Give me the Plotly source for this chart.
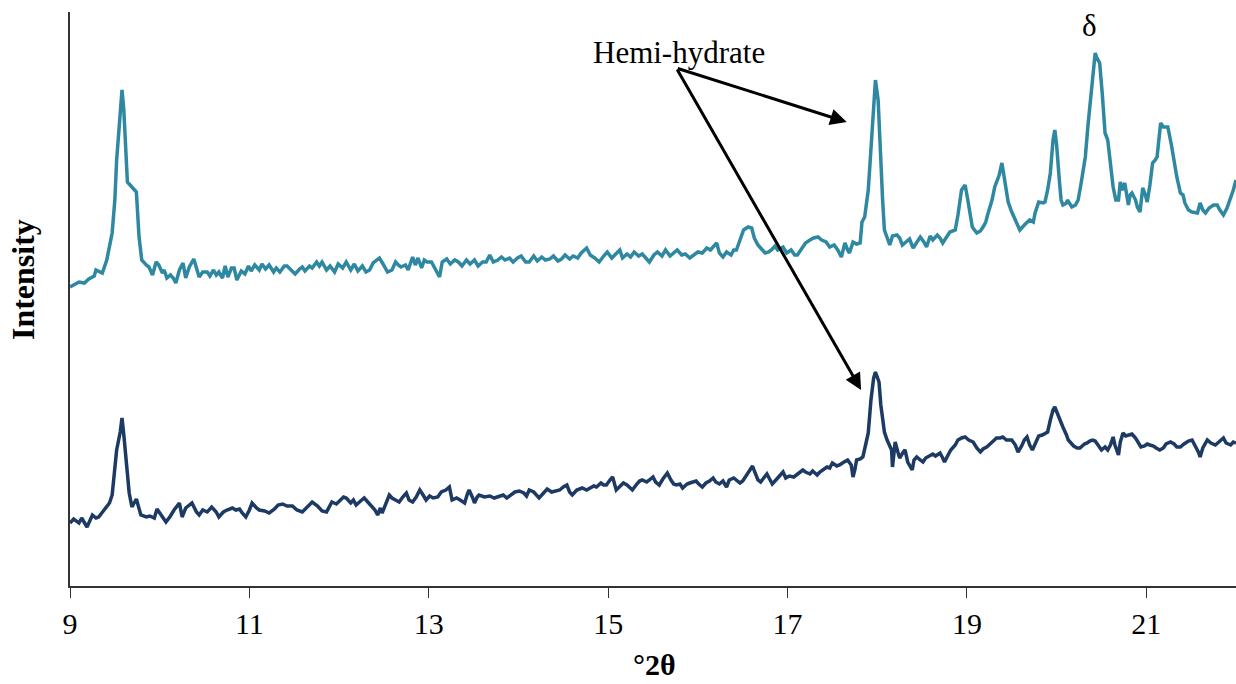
import plotly.graph_objects as go

# 2-theta positions and intensities (arbitrary units) - upper trace
upper_2theta = [9.00,9.06,9.10,9.16,9.21,9.27,9.29,9.36,9.41,9.47,9.50,9.52,9.56,9.58,9.60,9.62,9.64,9.68,9.74,9.77,9.80,9.85,9.88,9.92,9.96,9.99,10.03,10.05,10.08,10.12,10.15,10.18,10.22,10.26,10.29,10.33,10.38,10.44,10.48,10.53,10.56,10.60,10.63,10.66,10.70,10.73,10.76,10.80,10.83,10.86,10.91,10.95,10.99,11.02,11.06,11.11,11.14,11.18,11.22,11.27,11.30,11.34,11.39,11.42,11.47,11.51,11.56,11.59,11.62,11.67,11.70,11.75,11.78,11.81,11.86,11.90,11.95,11.99,12.04,12.08,12.13,12.17,12.21,12.26,12.30,12.34,12.38,12.45,12.49,12.54,12.59,12.63,12.66,12.69,12.74,12.77,12.82,12.85,12.88,12.92,12.95,12.98,13.03,13.07,13.12,13.15,13.20,13.24,13.29,13.33,13.37,13.42,13.46,13.51,13.55,13.60,13.64,13.68,13.72,13.77,13.81,13.85,13.90,13.94,13.99,14.03,14.08,14.12,14.17,14.21,14.26,14.30,14.35,14.39,14.44,14.48,14.52,14.57,14.61,14.66,14.70,14.76,14.80,14.85,14.90,14.95,14.99,15.04,15.08,15.13,15.16,15.21,15.25,15.29,15.34,15.38,15.43,15.46,15.51,15.55,15.60,15.64,15.69,15.73,15.77,15.82,15.86,15.91,15.95,16.00,16.05,16.10,16.14,16.19,16.21,16.24,16.28,16.32,16.37,16.40,16.43,16.47,16.51,16.56,16.60,16.63,16.67,16.71,16.75,16.79,16.82,16.86,16.89,16.95,16.99,17.04,17.08,17.11,17.16,17.20,17.25,17.29,17.34,17.38,17.43,17.47,17.52,17.56,17.60,17.64,17.67,17.69,17.73,17.77,17.81,17.83,17.86,17.90,17.92,17.95,17.98,18.01,18.03,18.06,18.08,18.12,18.14,18.17,18.22,18.25,18.28,18.32,18.36,18.40,18.44,18.48,18.52,18.55,18.59,18.62,18.67,18.70,18.73,18.78,18.81,18.87,18.90,18.94,18.98,19.01,19.06,19.11,19.15,19.18,19.21,19.23,19.28,19.31,19.36,19.39,19.42,19.46,19.50,19.55,19.59,19.64,19.68,19.70,19.74,19.76,19.80,19.85,19.87,19.90,19.93,19.96,19.98,20.00,20.03,20.05,20.07,20.11,20.12,20.15,20.17,20.21,20.24,20.27,20.32,20.35,20.37,20.41,20.43,20.45,20.48,20.51,20.54,20.57,20.61,20.63,20.66,20.69,20.71,20.73,20.76,20.80,20.82,20.84,20.88,20.90,20.93,20.96,20.99,21.01,21.04,21.07,21.10,21.12,21.14,21.16,21.19,21.22,21.24,21.28,21.31,21.34,21.38,21.41,21.43,21.47,21.51,21.57,21.60,21.63,21.66,21.70,21.75,21.79,21.82,21.86,21.90,21.94,21.97,22.00]
upper_intensity = [299,302,304,303,307,310,316,313,326,353,386,426,471,496,476,443,404,400,394,349,326,321,319,311,324,321,313,316,308,311,308,303,316,323,308,319,327,309,314,314,310,316,311,314,308,320,309,318,318,306,315,312,320,315,321,316,322,317,321,314,318,314,320,320,316,312,317,319,315,320,318,324,320,324,316,320,314,322,318,324,316,322,315,320,314,316,323,328,322,314,316,324,321,319,321,316,329,321,328,318,326,324,324,318,309,324,327,322,326,324,320,326,322,326,320,324,324,331,324,326,329,326,328,324,328,330,324,324,330,325,329,326,327,330,325,327,331,327,330,328,333,338,331,328,324,330,334,328,332,336,328,332,329,334,330,332,327,324,331,334,330,336,330,333,336,331,332,328,331,334,333,338,336,341,343,333,329,334,331,336,336,346,356,359,358,348,341,337,333,334,336,340,336,339,333,336,331,331,338,343,346,348,349,346,344,339,341,336,329,343,336,333,344,342,343,364,369,396,423,466,506,486,439,386,356,344,341,350,351,348,341,344,347,338,344,349,344,339,350,346,351,348,343,350,354,356,371,396,401,386,359,353,355,359,364,371,386,399,411,423,408,384,374,364,356,361,364,366,364,373,384,383,384,396,413,446,456,441,406,386,381,383,386,381,379,381,386,401,429,461,479,516,533,528,523,491,453,446,416,399,386,386,404,396,403,381,391,393,386,379,374,398,391,384,401,423,426,429,446,463,459,459,459,441,423,409,393,391,383,376,374,373,383,376,373,378,381,381,376,371,378,388,396,406]

# lower trace
lower_2theta = [9.00,9.04,9.10,9.13,9.19,9.25,9.29,9.32,9.38,9.44,9.47,9.50,9.52,9.56,9.58,9.60,9.62,9.66,9.69,9.74,9.79,9.85,9.89,9.94,9.97,10.02,10.07,10.12,10.16,10.22,10.25,10.29,10.36,10.41,10.44,10.48,10.53,10.58,10.63,10.66,10.71,10.75,10.81,10.85,10.89,10.92,10.96,11.00,11.03,11.08,11.11,11.17,11.22,11.28,11.32,11.37,11.42,11.48,11.53,11.59,11.65,11.70,11.76,11.81,11.86,11.89,11.92,11.97,12.01,12.05,12.08,12.13,12.16,12.19,12.24,12.28,12.33,12.37,12.40,12.43,12.46,12.48,12.53,12.56,12.59,12.63,12.67,12.71,12.75,12.78,12.82,12.86,12.90,12.93,12.97,13.01,13.05,13.10,13.14,13.19,13.23,13.26,13.31,13.35,13.40,13.43,13.45,13.49,13.51,13.54,13.56,13.62,13.68,13.73,13.79,13.83,13.87,13.91,13.96,14.01,14.06,14.09,14.12,14.17,14.20,14.23,14.28,14.32,14.37,14.41,14.46,14.50,14.54,14.57,14.60,14.65,14.68,14.71,14.76,14.80,14.84,14.87,14.92,14.95,14.98,15.02,15.05,15.09,15.13,15.17,15.21,15.24,15.27,15.32,15.35,15.38,15.43,15.46,15.50,15.53,15.57,15.61,15.64,15.66,15.70,15.73,15.76,15.80,15.83,15.88,15.91,15.94,15.98,16.01,16.05,16.09,16.13,16.17,16.20,16.24,16.28,16.32,16.35,16.40,16.43,16.47,16.50,16.54,16.58,16.61,16.63,16.67,16.70,16.73,16.77,16.80,16.83,16.87,16.91,16.95,16.98,17.02,17.07,17.10,17.14,17.17,17.20,17.25,17.28,17.33,17.36,17.39,17.44,17.47,17.50,17.55,17.58,17.63,17.67,17.71,17.73,17.75,17.77,17.81,17.84,17.87,17.90,17.93,17.96,17.98,18.02,18.04,18.06,18.08,18.11,18.14,18.16,18.17,18.20,18.23,18.25,18.29,18.31,18.34,18.36,18.39,18.41,18.44,18.48,18.51,18.54,18.59,18.62,18.65,18.70,18.73,18.75,18.79,18.82,18.87,18.90,18.94,18.98,19.02,19.07,19.11,19.15,19.18,19.22,19.27,19.30,19.33,19.37,19.40,19.44,19.47,19.50,19.54,19.57,19.61,19.64,19.67,19.70,19.73,19.76,19.80,19.84,19.87,19.90,19.93,19.96,19.98,20.00,20.04,20.07,20.11,20.13,20.16,20.19,20.23,20.26,20.31,20.34,20.37,20.40,20.43,20.47,20.50,20.54,20.57,20.60,20.63,20.65,20.69,20.71,20.74,20.77,20.81,20.84,20.88,20.91,20.94,20.98,21.01,21.04,21.08,21.11,21.15,21.19,21.22,21.27,21.31,21.34,21.38,21.42,21.47,21.51,21.54,21.58,21.60,21.63,21.68,21.72,21.77,21.81,21.86,21.89,21.94,21.97,22.00]
lower_intensity = [63,67,63,68,59,71,68,69,76,83,91,116,136,154,168,151,129,93,79,87,71,69,70,68,77,70,64,70,76,83,69,78,83,74,71,76,74,79,74,69,74,76,78,76,77,73,69,76,83,78,76,75,73,77,81,82,80,80,76,74,80,84,80,75,74,79,84,82,85,89,88,83,86,81,85,88,83,79,76,71,78,73,84,91,88,86,84,89,93,86,84,89,96,92,86,90,88,89,94,96,99,86,88,86,83,92,96,88,83,89,91,89,90,88,90,91,88,91,94,95,93,90,96,94,91,88,93,97,94,95,96,99,101,94,91,96,97,98,96,98,100,99,103,101,101,106,109,96,100,103,101,99,96,102,105,106,104,106,109,104,101,107,110,113,106,102,101,102,98,102,103,104,105,102,99,103,105,108,104,102,105,99,106,108,106,103,105,110,115,120,115,106,104,108,112,107,102,106,110,114,108,110,109,111,114,116,114,112,115,111,114,116,119,118,123,120,121,124,126,121,109,116,126,127,129,141,153,186,208,214,204,181,169,154,146,139,136,119,144,134,128,134,136,124,121,116,126,129,126,124,128,131,132,130,133,128,124,131,136,141,146,148,149,146,144,138,134,137,139,143,146,148,148,149,146,146,146,141,134,140,146,149,141,136,143,150,151,153,154,166,176,179,174,166,159,151,146,143,140,138,138,142,143,145,146,145,140,136,139,136,141,149,141,131,144,153,150,151,152,148,144,139,140,142,141,140,138,136,138,142,144,142,139,139,142,145,146,141,134,129,138,146,143,141,144,148,143,141,144,143]

x_tickvals = [9, 11, 13, 15, 17, 19, 21]
x_ticktext = ["9", "11", "13", "15", "17", "19", "21"]

SERIF = "Liberation Serif, Times New Roman, serif"

fig = go.Figure()
fig.add_trace(go.Scatter(x=upper_2theta, y=upper_intensity, mode="lines",
                         line=dict(color="#2e88a2", width=3.5), showlegend=False))
fig.add_trace(go.Scatter(x=lower_2theta, y=lower_intensity, mode="lines",
                         line=dict(color="#1c3a63", width=3.5), showlegend=False))

# annotations
fig.add_annotation(x=15.79, y=534, text="Hemi-hydrate", showarrow=False,
                   font=dict(family=SERIF, size=31, color="black"), xanchor="center", yanchor="middle")
fig.add_annotation(x=17.66, y=464, ax=15.76, ay=518, axref="x", ayref="y",
                   text="", showarrow=True, arrowhead=2, arrowsize=1.1, arrowwidth=3, arrowcolor="black")
fig.add_annotation(x=17.82, y=196, ax=15.76, ay=518, axref="x", ayref="y",
                   text="", showarrow=True, arrowhead=2, arrowsize=1.1, arrowwidth=3, arrowcolor="black")
fig.add_annotation(x=20.37, y=561, text="δ", showarrow=False,
                   font=dict(family=SERIF, size=31, color="black"), xanchor="center", yanchor="middle")
fig.add_annotation(xref="paper", yref="paper", x=-0.0403, y=0.533, text="<b>Intensity</b>",
                   textangle=-90, showarrow=False, font=dict(family=SERIF, size=32, color="black"),
                   xanchor="center", yanchor="middle")
fig.add_annotation(xref="paper", yref="paper", x=0.501, y=-0.1359, text="<b>°2θ</b>",
                   showarrow=False, font=dict(family=SERIF, size=30, color="black"),
                   xanchor="center", yanchor="middle")

fig.update_layout(
    width=1236, height=684,
    margin=dict(l=70, r=0, t=12, b=98),
    paper_bgcolor="white", plot_bgcolor="white",
    font=dict(family=SERIF, size=30, color="black"),
    xaxis=dict(range=[9, 22], tickvals=x_tickvals, ticktext=x_ticktext,
               showline=True, linecolor="#333333", linewidth=2,
               ticks="outside", ticklen=10, tickwidth=1, tickcolor="#333333",
               showgrid=False, zeroline=False, tickfont=dict(family=SERIF, size=30)),
    yaxis=dict(range=[0, 574], showline=True, linecolor="#333333", linewidth=2,
               showticklabels=False, ticks="", showgrid=False, zeroline=False),
)

fig.write_html("out.html")
